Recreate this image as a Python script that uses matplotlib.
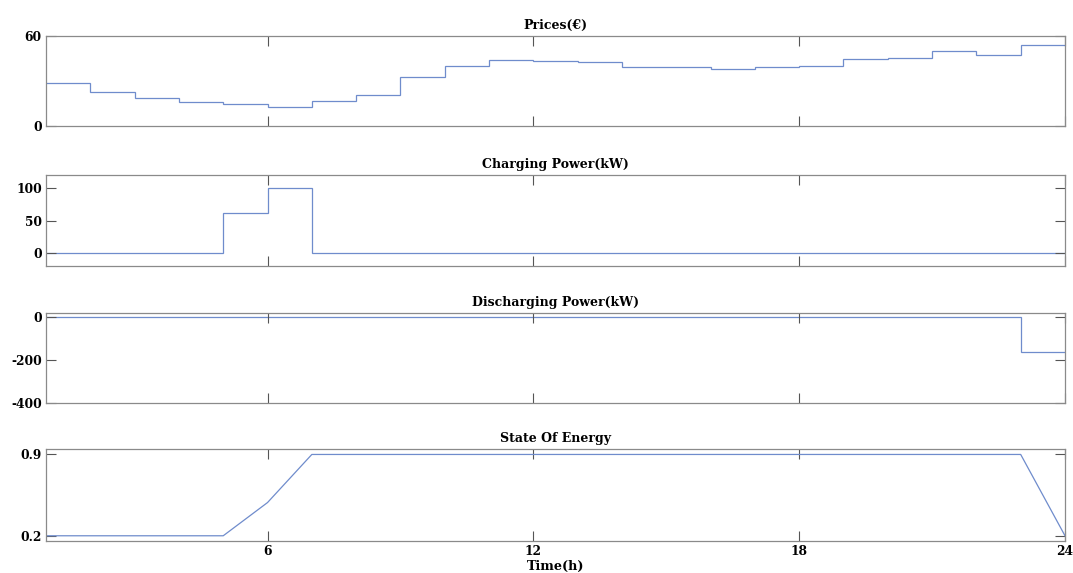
import numpy as np
import matplotlib
matplotlib.use("Agg")
import matplotlib.pyplot as plt

# ---- data ----
hour_edges = np.arange(1, 25)          # hour boundaries 1..24
hours = np.arange(1, 25)               # hourly points 1..24

prices = [28.7, 22.4, 18.7, 16.0, 14.4, 12.7, 16.9, 20.7, 32.4, 39.8, 43.8,
          43.3, 42.5, 39.6, 39.6, 37.8, 39.6, 40.2, 44.4, 45.1, 50.2, 47.1, 54.0]
charging = [0, 0, 0, 0, 62, 100, 0, 0, 0, 0, 0, 0,
            0, 0, 0, 0, 0, 0, 0, 0, 0, 0, 0]
discharging = [0, 0, 0, 0, 0, 0, 0, 0, 0, 0, 0, 0,
               0, 0, 0, 0, 0, 0, 0, 0, 0, 0, -165]
soe = [0.2, 0.2, 0.2, 0.2, 0.2, 0.486, 0.9, 0.9, 0.9, 0.9, 0.9, 0.9,
       0.9, 0.9, 0.9, 0.9, 0.9, 0.9, 0.9, 0.9, 0.9, 0.9, 0.9, 0.2]

titles = ["Prices(€)", "Charging Power(kW)", "Discharging Power(kW)", "State Of Energy"]
yticks = [[0, 60], [0, 50, 100], [-400, -200, 0], [0.2, 0.9]]
yticklabels = [["0", "60"], ["0", "50", "100"], ["-400", "-200", "0"], ["0.2", "0.9"]]
ylims = [(0, 60), (-20, 120), (-400, 17), (0.155, 0.947)]
xticks = [6, 12, 18, 24]
xticklabels = ["6", "12", "18", "24"]

# ---- style ----
plt.rcParams['font.family'] = ['DejaVu Serif']
plt.rcParams['font.weight'] = 'bold'
line_color = '#6f8ccc'
frame_color = '#8a8a8a'

W, H = 1073, 573
fig = plt.figure(figsize=(W / 100, H / 100), dpi=100)
fig.patch.set_facecolor('white')

left, right = 46, 1065
panels_px = [(36, 126), (175, 266), (313, 403), (449, 541)]

axes = []
for (top, bot) in panels_px:
    ax = fig.add_axes([left / W, 1 - bot / H, (right - left) / W, (bot - top) / H])
    axes.append(ax)

axes[0].stairs(prices, hour_edges, baseline=None, color=line_color, lw=0.9)
axes[1].stairs(charging, hour_edges, baseline=None, color=line_color, lw=0.9)
axes[2].stairs(discharging, hour_edges, baseline=None, color=line_color, lw=0.9)
axes[3].plot(hours, soe, color=line_color, lw=0.9)

for i, ax in enumerate(axes):
    ax.set_xlim(1, 24)
    ax.set_ylim(*ylims[i])
    ax.set_yticks(yticks[i])
    ax.set_yticklabels(yticklabels[i], fontsize=8.8, fontweight='bold')
    ax.set_xticks(xticks)
    if i == 3:
        ax.set_xticklabels(xticklabels, fontsize=8.8, fontweight='bold')
        ax.set_xlabel("Time(h)", fontsize=9.2, fontweight='bold', labelpad=1)
    else:
        ax.set_xticklabels([])
    ax.set_title(titles[i], fontsize=9, fontweight='bold', pad=5)
    ax.tick_params(direction='in', length=7, width=0.8, color='#555555',
                   top=True, right=True, pad=3)
    for s in ax.spines.values():
        s.set_color(frame_color)
        s.set_linewidth(0.9)

fig.savefig("out.png", dpi=100, facecolor='white')
